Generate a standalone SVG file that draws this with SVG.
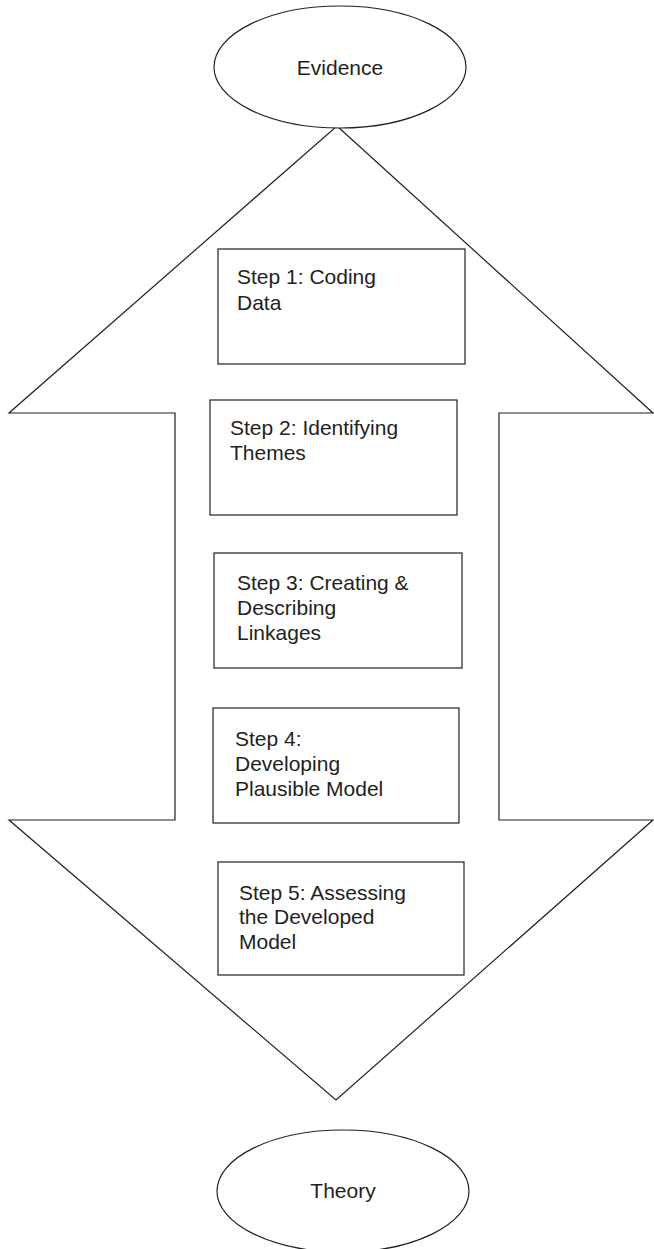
<svg xmlns="http://www.w3.org/2000/svg" width="654" height="1249" viewBox="0 0 654 1249">
<style>
.shape{fill:#fff;stroke:#231f20;stroke-width:1.2}
.arrow{fill:none;stroke:#231f20;stroke-width:1.2;stroke-linejoin:miter}
.t{font-family:"Liberation Sans",Arial,sans-serif;font-size:21px;fill:#231f20}
.c{text-anchor:middle}
</style>
<rect width="654" height="1249" fill="#fff"/>
<g id="connectors">
<polygon class="arrow" points="337,126 653,413 499,413 499,820 653,820 336,1100 9,820 175,820 175,413 9,413"/>
</g>
<g id="evidence">
<ellipse class="shape" cx="340" cy="67" rx="126" ry="61"/>
<text class="t c" x="340" y="75">Evidence</text>
</g>
<g id="step1">
<rect class="shape" x="218" y="249" width="247" height="115"/>
<text class="t" x="237" y="284">Step 1: Coding</text>
<text class="t" x="237" y="310">Data</text>
</g>
<g id="step2">
<rect class="shape" x="210" y="400" width="247" height="115"/>
<text class="t" x="230" y="435">Step 2: Identifying</text>
<text class="t" x="230" y="460">Themes</text>
</g>
<g id="step3">
<rect class="shape" x="214" y="553" width="248" height="115"/>
<text class="t" x="237" y="590">Step 3: Creating &amp;</text>
<text class="t" x="237" y="615">Describing</text>
<text class="t" x="237" y="640">Linkages</text>
</g>
<g id="step4">
<rect class="shape" x="213" y="708" width="246" height="115"/>
<text class="t" x="235" y="746">Step 4:</text>
<text class="t" x="235" y="771">Developing</text>
<text class="t" x="235" y="796">Plausible Model</text>
</g>
<g id="step5">
<rect class="shape" x="218" y="862" width="246" height="113"/>
<text class="t" x="239" y="900">Step 5: Assessing</text>
<text class="t" x="239" y="924">the Developed</text>
<text class="t" x="239" y="949">Model</text>
</g>
<g id="theory">
<ellipse class="shape" cx="343" cy="1191" rx="126" ry="61"/>
<text class="t c" x="343" y="1198">Theory</text>
</g>
</svg>
